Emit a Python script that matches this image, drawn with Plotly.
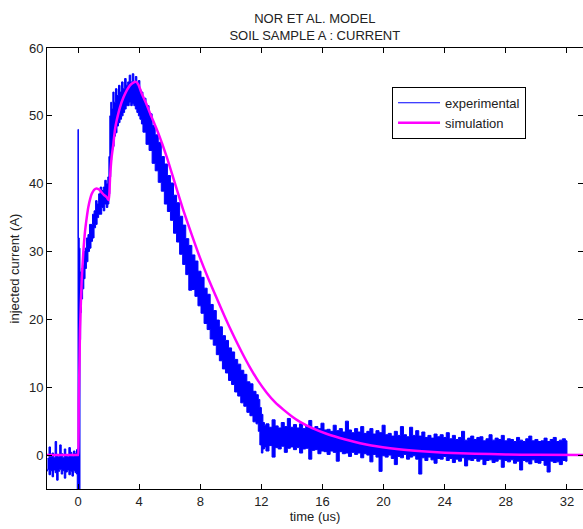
import plotly.graph_objects as go

# ---------------- data ----------------
# experimental current: lower / upper envelope of the noisy record (A) at sample times (us)
exp_t = [-2.0, -1.9, -1.8, -1.7, -1.6, -1.5, -1.4, -1.3, -1.2, -1.1, -1.0, -0.9, -0.8, -0.7,
         -0.6, -0.5, -0.4, -0.3, -0.2, -0.1, -0.05, -0.02, 0.0, 0.02, 0.08, 0.13, 0.17, 0.22,
         0.3, 0.38, 0.46, 0.55, 0.65, 0.75, 0.85, 0.95, 1.05, 1.15, 1.25, 1.35, 1.45, 1.55,
         1.65, 1.75, 1.85, 1.95, 2.02, 2.08, 2.14, 2.2, 2.28, 2.36, 2.45, 2.55, 2.65, 2.75,
         2.85, 2.95, 3.05, 3.15, 3.25, 3.35, 3.45, 3.55, 3.65, 3.75, 3.85, 3.95, 4.05, 4.15,
         4.25, 4.45, 4.65, 4.85, 5.05, 5.25, 5.45, 5.65, 5.85, 6.05, 6.25, 6.45, 6.65, 6.85,
         7.05, 7.25, 7.45, 7.65, 7.85, 8.05, 8.25, 8.45, 8.65, 8.85, 9.05, 9.25, 9.45, 9.65,
         9.85, 10.05, 10.25, 10.45, 10.65, 10.85, 11.05, 11.25, 11.45, 11.65, 11.8, 11.9,
         12.0, 12.1, 12.2,
         12.3, 12.5, 12.7, 12.9, 13.1, 13.3, 13.5, 13.7, 13.9, 14.1,
         14.3, 14.5, 14.7, 14.9, 15.1, 15.3, 15.5, 15.7, 15.9, 16.1,
         16.3, 16.5, 16.7, 16.9, 17.1, 17.3, 17.5, 17.7, 17.9, 18.1,
         18.3, 18.5, 18.7, 18.9, 19.1, 19.3, 19.5, 19.7, 19.9, 20.1,
         20.3, 20.5, 20.7, 20.9, 21.1, 21.3, 21.5, 21.7, 21.9, 22.1,
         22.3, 22.5, 22.7, 22.9, 23.1, 23.3, 23.5, 23.7, 23.9, 24.1,
         24.3, 24.5, 24.7, 24.9, 25.1, 25.3, 25.5, 25.7, 25.9, 26.1,
         26.3, 26.5, 26.7, 26.9, 27.1, 27.3, 27.5, 27.7, 27.9, 28.1,
         28.3, 28.5, 28.7, 28.9, 29.1, 29.3, 29.5, 29.7, 29.9, 30.1,
         30.3, 30.5, 30.7, 30.9, 31.1, 31.3, 31.5, 31.7, 31.9, 32.0]

exp_lo = [-2.4, -2.1, -2.9, -2.3, -3.2, -2.2, -2.6, -3.7, -2.4, -2.1, -2.8, -2.3, -3.4, -2.5,
          -2.2, -2.9, -2.4, -3.1, -2.3, -2.6, -2.8, -6.0, -6.0, -6.0, -6.0, -6.0, 17.0, 21.0,
          23.0, 24.5, 26.0, 27.5, 28.5, 30.0, 30.5, 31.5, 32.0, 33.5, 34.0, 35.0, 35.5, 35.5,
          36.5, 36.0, 37.0, 36.5, 37.0, 38.5, 41.0, 43.5, 45.0, 45.5, 47.0, 47.5, 48.5, 49.0,
          49.5, 50.0, 50.5, 51.0, 51.5, 51.5, 52.0, 51.5, 51.8, 51.5, 51.0, 50.5, 50.0, 49.5,
          48.8, 47.6, 45.8, 44.9, 43.0, 41.9, 40.2, 38.9, 37.0, 35.9, 34.6, 32.7, 31.4, 29.6,
          28.1, 26.6, 24.3, 24.4, 23.4, 22.0, 20.9, 19.4, 18.5, 17.1, 16.2, 14.8, 13.9, 12.7,
          12.1, 11.0, 10.4, 9.3, 8.7, 7.7, 7.2, 6.3, 5.8, 4.9, 4.6, 3.5,
          1.5, 0.3, 0.9,
          1.2, 0.6, 1.4, -0.3, 1.1, 0.9, 1.3, 0.4, 1.0, 1.2,
          0.8, 1.1, 0.3, 0.9, 1.0, -0.6, 0.7, 0.8, 0.2, 0.6,
          0.5, 0.1, 0.6, 0.4, -0.9, 0.5, 0.2, 0.3, -0.2, 0.4,
          0.1, 0.3, -0.4, 0.2, 0.0, -1.0, 0.1, -0.3, -2.4, -0.1,
          -0.3, 0.0, -0.5, -1.4, -0.2, -0.4, 0.1, -0.6, -0.3, -0.1,
          -0.6, -2.8, -0.4, -0.8, -0.3, -0.7, -1.2, -0.5, -0.6, -0.2,
          -0.8, -0.5, -1.1, -0.6, -0.9, -0.4, -1.6, -0.7, -0.8, -0.5,
          -0.9, -0.6, -1.4, -0.8, -0.7, -1.1, -0.9, -0.6, -1.8, -0.8,
          -1.0, -0.7, -1.2, -0.9, -2.2, -0.8, -1.0, -1.3, -0.7, -1.1,
          -1.2, -0.8, -1.5, -2.5, -0.9, -1.1, -1.0, -1.4, -0.8, -0.9]

exp_hi = [-0.5, 1.2, -0.2, 0.3, -0.4, 2.0, 0.1, -0.3, 1.5, 0.2, -0.4, 0.9, 0.0, -0.3,
          1.1, 0.4, -0.2, 0.6, 0.2, 0.8, 0.5, 1.0, 48.0, 32.0, 30.5, 27.0, 26.0, 27.5,
          28.0, 30.0, 30.5, 32.0, 32.5, 34.0, 34.0, 35.5, 36.0, 37.5, 37.0, 38.5, 39.5, 39.0,
          39.5, 40.5, 40.0, 41.0, 44.0, 50.0, 52.0, 51.0, 53.5, 52.0, 54.0, 53.0, 54.5, 53.5,
          55.0, 54.0, 55.5, 54.5, 55.0, 56.0, 55.0, 56.2, 55.0, 55.8, 54.5, 55.2, 53.8, 53.5,
          52.6, 51.5, 50.3, 48.6, 47.2, 46.1, 44.0, 42.9, 41.2, 40.1, 38.3, 37.2, 35.2, 33.9,
          31.9, 30.9, 29.5, 28.6, 27.1, 26.2, 24.6, 23.7, 22.2, 21.3, 19.9, 18.9, 17.6, 16.9,
          15.8, 15.2, 14.1, 13.4, 12.5, 11.9, 10.8, 10.5, 9.4, 8.9, 8.2, 7.0,
          6.0, 4.8, 4.4,
          4.6, 4.1, 5.2, 4.3, 4.0, 4.8, 4.2, 5.4, 4.1, 4.5,
          4.0, 4.6, 3.9, 4.3, 5.1, 3.8, 4.2, 3.9, 4.7, 3.7,
          3.8, 3.5, 4.4, 3.6, 3.9, 3.4, 5.0, 3.7, 3.3, 3.9,
          3.4, 4.2, 3.2, 3.5, 3.9, 3.1, 3.6, 3.3, 4.4, 3.0,
          3.2, 2.8, 3.5, 2.9, 4.2, 3.0, 2.7, 4.1, 2.9, 3.6,
          2.8, 3.4, 2.6, 2.9, 2.5, 3.1, 2.7, 3.0, 2.6, 3.3,
          2.4, 2.9, 2.3, 2.6, 3.5, 2.2, 2.5, 2.8, 2.3, 2.6,
          2.7, 2.1, 2.4, 3.0, 2.2, 2.5, 2.3, 2.9, 2.1, 2.4,
          2.3, 2.0, 2.6, 2.2, 2.0, 2.4, 2.8, 2.1, 2.3, 2.0,
          2.1, 2.5, 2.0, 2.3, 2.6, 2.0, 2.2, 2.4, 2.1, 1.8]

# simulated current (A)
sim_t = [-2.03, -0.02, 0.0, 0.05, 0.1, 0.13, 0.24, 0.35, 0.46, 0.57, 0.67, 0.8, 0.9, 1.05,
         1.22, 1.4, 1.55, 1.72, 1.88, 2.0, 2.05, 2.1, 2.2, 2.31, 2.42, 2.53, 2.75, 2.97,
         3.2, 3.4, 3.62, 3.8, 3.95, 4.17, 4.45, 4.71, 5.26, 5.8, 6.35, 6.89, 7.44, 7.98,
         8.53, 9.08, 9.62, 10.16, 10.71, 11.26, 11.8, 12.35, 12.89, 13.44, 14.0, 14.53,
         15.3, 16.3, 17.5, 19.2, 21.0, 22.5, 24.0, 26.0, 28.0, 30.0, 33.1]
sim_i = [0.0, 0.0, 0.0, 8.0, 14.0, 18.4, 25.7, 30.0, 33.0, 35.0, 36.5, 37.8, 38.5, 39.1,
         39.3, 39.1, 38.7, 38.3, 38.0, 37.6, 38.5, 41.0, 43.9, 45.8, 48.0, 49.3, 51.3, 52.7,
         53.8, 54.5, 54.9, 55.0, 54.6, 53.3, 51.9, 50.4, 47.4, 44.0, 40.0, 36.1, 32.5, 29.1,
         26.0, 23.1, 20.3, 17.7, 15.2, 12.9, 10.9, 9.2, 7.8, 6.7, 5.7, 4.9,
         4.0, 3.1, 2.3, 1.4, 0.85, 0.55, 0.35, 0.2, 0.1, 0.04, 0.0]

x_ticks = [0, 4, 8, 12, 16, 20, 24, 28, 32]
y_ticks = [0, 10, 20, 30, 40, 50, 60]

FONT = "Liberation Sans, Arial, sans-serif"
TXT = "#222222"

fig = go.Figure()

# experimental record (dense noisy trace drawn as its filled envelope)
fig.add_trace(go.Scatter(
    x=exp_t + exp_t[::-1],
    y=exp_hi + exp_lo[::-1],
    mode="lines", fill="toself", fillcolor="#0000FF",
    line=dict(color="#0000FF", width=1, shape="hv"),
    showlegend=False, hoverinfo="skip"))

# legend entry for experimental
fig.add_trace(go.Scatter(x=[None], y=[None], mode="lines",
                         line=dict(color="#0000FF", width=1), name="experimental"))

fig.add_trace(go.Scatter(x=sim_t, y=sim_i, mode="lines",
                         line=dict(color="#FF00FF", width=2.5, shape="spline",
                                   smoothing=0.6),
                         name="simulation"))

axis_common = dict(showline=True, linecolor="black", linewidth=1, mirror="allticks",
                   ticks="inside", ticklen=5, tickcolor="black", showgrid=False,
                   zeroline=False, tickfont=dict(family=FONT, size=13, color=TXT))

fig.update_xaxes(range=[-2.03, 33.05], tickvals=x_ticks,
                 title=dict(text="time (us)", font=dict(family=FONT, size=13, color=TXT),
                            standoff=4),
                 **axis_common)
fig.update_yaxes(range=[-5, 60], tickvals=y_ticks,
                 title=dict(text="injected current (A)",
                            font=dict(family=FONT, size=13, color=TXT), standoff=6),
                 **axis_common)

fig.update_layout(
    width=583, height=529,
    margin=dict(l=47, r=0, t=48, b=40),
    paper_bgcolor="white", plot_bgcolor="white",
    title=dict(text="NOR ET AL. MODEL<br>SOIL SAMPLE A : CURRENT",
               font=dict(family=FONT, size=13, color=TXT),
               x=0.54, xanchor="center", y=0.957, yanchor="top"),
    legend=dict(x=0.6437, y=0.912, xanchor="left", yanchor="top",
                bordercolor="black", borderwidth=1, bgcolor="white",
                itemwidth=42,
                font=dict(family=FONT, size=13, color=TXT)),
    showlegend=True,
)

fig.write_html("out.html")
